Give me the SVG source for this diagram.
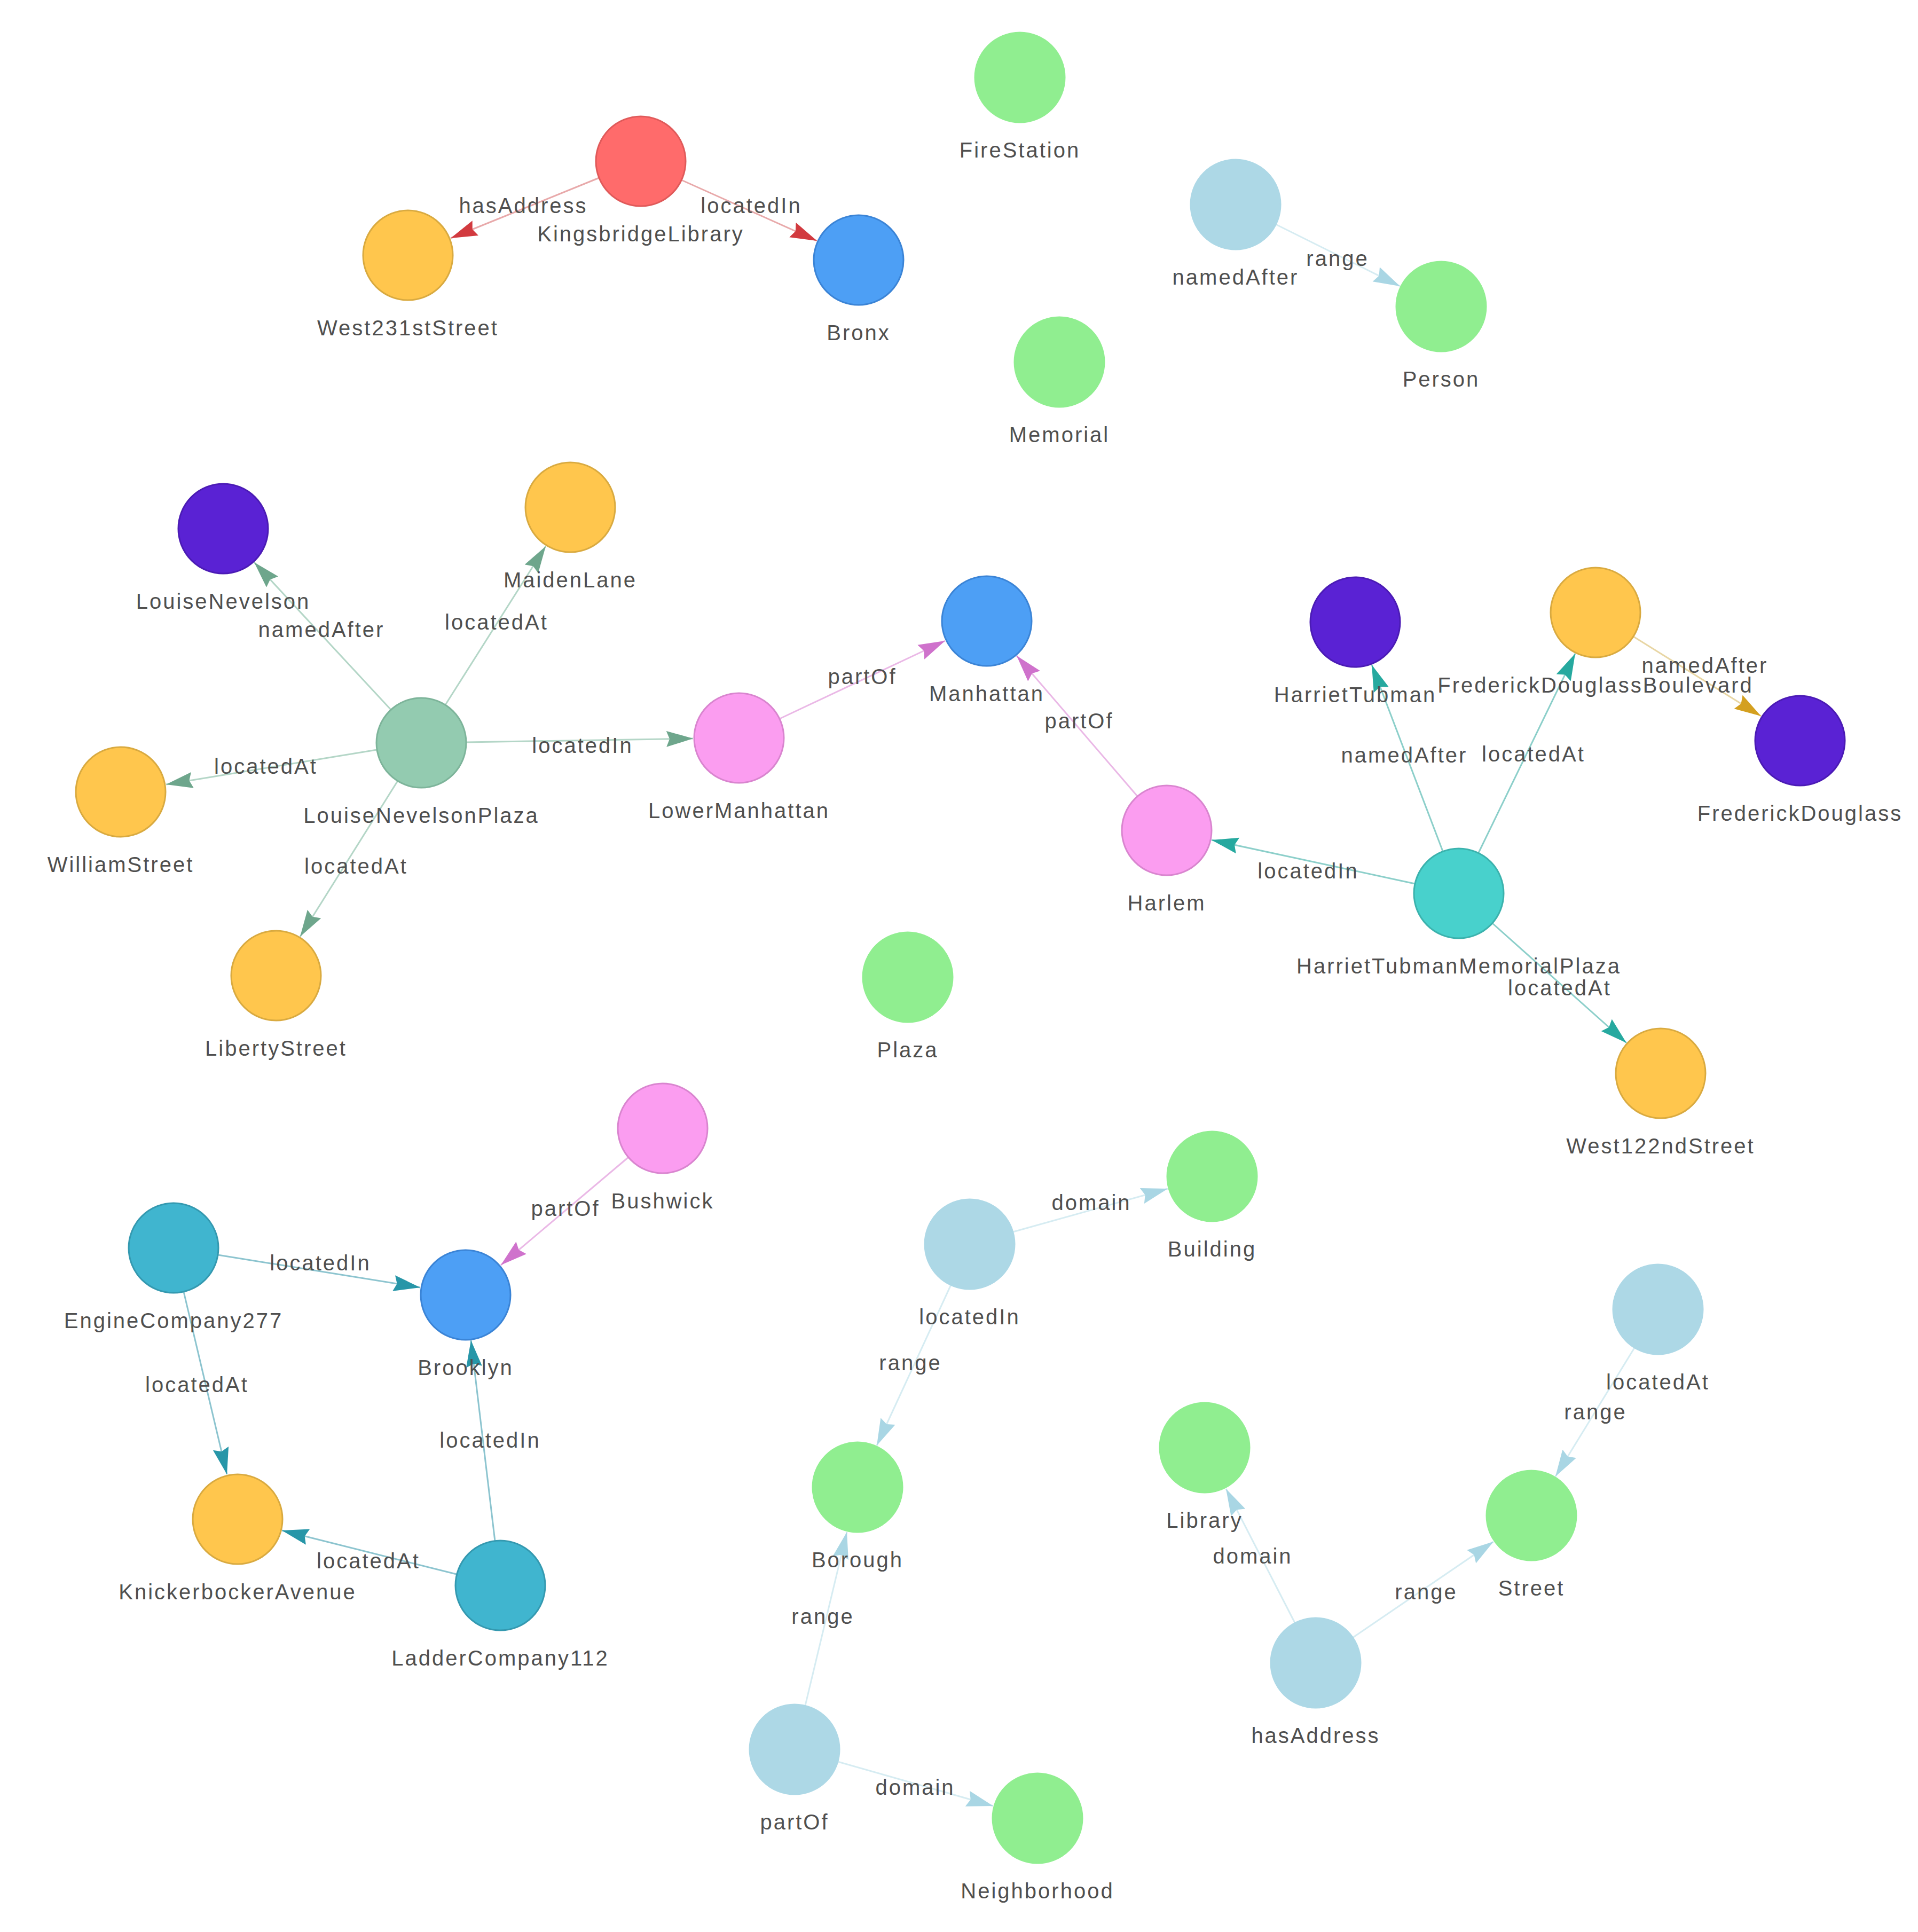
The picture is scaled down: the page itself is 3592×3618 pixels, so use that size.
<svg xmlns="http://www.w3.org/2000/svg" width="3592" height="3618" viewBox="0 0 3592 3618">
<style>
text{font-family:"Liberation Sans",Arial,sans-serif;font-size:40px;letter-spacing:3px;fill:#4f4f4f;text-anchor:middle}
.e{stroke-width:3;fill:none}
.n{stroke-width:3}
.red{fill:#ff6b6b;stroke:#e05a5a}
.yel{fill:#ffc64d;stroke:#d9aa40}
.blu{fill:#4d9ff5;stroke:#3b84d6}
.grn{fill:#90ee90;stroke:#90ee90}
.lbl{fill:#add8e6;stroke:#add8e6}
.pur{fill:#5a22d4;stroke:#4b1bb5}
.pnk{fill:#fb9df0;stroke:#d985cf}
.sag{fill:#93cbb0;stroke:#7db49a}
.tea{fill:#48d1cc;stroke:#3bb2ad}
.cya{fill:#40b5cf;stroke:#3499b0}
</style>
<defs>
<marker id="aR" markerUnits="userSpaceOnUse" markerWidth="50" markerHeight="32" refX="50" refY="16" orient="auto"><path d="M0,1 L50,16 L0,31 L6,16 z" fill="#d23a3f"/></marker>
<marker id="aL" markerUnits="userSpaceOnUse" markerWidth="50" markerHeight="32" refX="50" refY="16" orient="auto"><path d="M0,1 L50,16 L0,31 L6,16 z" fill="#a9d6e4"/></marker>
<marker id="aS" markerUnits="userSpaceOnUse" markerWidth="50" markerHeight="32" refX="50" refY="16" orient="auto"><path d="M0,1 L50,16 L0,31 L6,16 z" fill="#6ea68c"/></marker>
<marker id="aP" markerUnits="userSpaceOnUse" markerWidth="50" markerHeight="32" refX="50" refY="16" orient="auto"><path d="M0,1 L50,16 L0,31 L6,16 z" fill="#cf72cc"/></marker>
<marker id="aT" markerUnits="userSpaceOnUse" markerWidth="50" markerHeight="32" refX="50" refY="16" orient="auto"><path d="M0,1 L50,16 L0,31 L6,16 z" fill="#26a99f"/></marker>
<marker id="aG" markerUnits="userSpaceOnUse" markerWidth="50" markerHeight="32" refX="50" refY="16" orient="auto"><path d="M0,1 L50,16 L0,31 L6,16 z" fill="#d4a020"/></marker>
<marker id="aC" markerUnits="userSpaceOnUse" markerWidth="50" markerHeight="32" refX="50" refY="16" orient="auto"><path d="M0,1 L50,16 L0,31 L6,16 z" fill="#2796a8"/></marker>
</defs>
<rect width="3592" height="3618" fill="#fff"/>
<g id="connectors">
<line class="e" x1="1122" y1="333" x2="844" y2="446" stroke="#e8a9aa" marker-end="url(#aR)"/>
<line class="e" x1="1276" y1="337" x2="1530" y2="451" stroke="#e8a9aa" marker-end="url(#aR)"/>
<line class="e" x1="2389" y1="420" x2="2622" y2="536" stroke="#d6ecf2" marker-end="url(#aL)"/>
<line class="e" x1="732" y1="1329" x2="476" y2="1053" stroke="#b4d6c7" marker-end="url(#aS)"/>
<line class="e" x1="834" y1="1320" x2="1022" y2="1023" stroke="#b4d6c7" marker-end="url(#aS)"/>
<line class="e" x1="706" y1="1404" x2="311" y2="1469" stroke="#b4d6c7" marker-end="url(#aS)"/>
<line class="e" x1="745" y1="1462" x2="562" y2="1754" stroke="#b4d6c7" marker-end="url(#aS)"/>
<line class="e" x1="873" y1="1390" x2="1298" y2="1383" stroke="#b4d6c7" marker-end="url(#aS)"/>
<line class="e" x1="1460" y1="1346" x2="1770" y2="1200" stroke="#eab8e6" marker-end="url(#aP)"/>
<line class="e" x1="2130" y1="1491" x2="1904" y2="1228" stroke="#eab8e6" marker-end="url(#aP)"/>
<line class="e" x1="2702" y1="1594" x2="2569" y2="1245" stroke="#8ccfca" marker-end="url(#aT)"/>
<line class="e" x1="2769" y1="1597" x2="2950" y2="1224" stroke="#8ccfca" marker-end="url(#aT)"/>
<line class="e" x1="3059" y1="1192" x2="3298" y2="1341" stroke="#e8d6a4" marker-end="url(#aG)"/>
<line class="e" x1="2650" y1="1655" x2="2269" y2="1573" stroke="#8ccfca" marker-end="url(#aT)"/>
<line class="e" x1="2795" y1="1729" x2="3046" y2="1953" stroke="#8ccfca" marker-end="url(#aT)"/>
<line class="e" x1="1177" y1="2167" x2="938" y2="2369" stroke="#eab8e6" marker-end="url(#aP)"/>
<line class="e" x1="408" y1="2350" x2="787" y2="2411" stroke="#8cc4cf" marker-end="url(#aC)"/>
<line class="e" x1="344" y1="2419" x2="425" y2="2761" stroke="#8cc4cf" marker-end="url(#aC)"/>
<line class="e" x1="927" y1="2886" x2="882" y2="2510" stroke="#8cc4cf" marker-end="url(#aC)"/>
<line class="e" x1="855" y1="2948" x2="528" y2="2866" stroke="#8cc4cf" marker-end="url(#aC)"/>
<line class="e" x1="1897" y1="2307" x2="2187" y2="2226" stroke="#d6ecf2" marker-end="url(#aL)"/>
<line class="e" x1="1781" y1="2406" x2="1642" y2="2707" stroke="#d6ecf2" marker-end="url(#aL)"/>
<line class="e" x1="1508" y1="3194" x2="1586" y2="2869" stroke="#d6ecf2" marker-end="url(#aL)"/>
<line class="e" x1="1569" y1="3299" x2="1860" y2="3382" stroke="#d6ecf2" marker-end="url(#aL)"/>
<line class="e" x1="2425" y1="3039" x2="2296" y2="2788" stroke="#d6ecf2" marker-end="url(#aL)"/>
<line class="e" x1="2533" y1="3067" x2="2797" y2="2887" stroke="#d6ecf2" marker-end="url(#aL)"/>
<line class="e" x1="3061" y1="2524" x2="2913" y2="2765" stroke="#d6ecf2" marker-end="url(#aL)"/>
<text x="980" y="399">hasAddress</text>
<text x="1407" y="399">locatedIn</text>
<text x="2505" y="498">range</text>
<text x="602" y="1193">namedAfter</text>
<text x="930" y="1179">locatedAt</text>
<text x="498" y="1449">locatedAt</text>
<text x="1091" y="1410">locatedIn</text>
<text x="667" y="1636">locatedAt</text>
<text x="1615" y="1281">partOf</text>
<text x="2021" y="1364">partOf</text>
<text x="2630" y="1428">namedAfter</text>
<text x="2872" y="1426">locatedAt</text>
<text x="3193" y="1260">namedAfter</text>
<text x="2450" y="1645">locatedIn</text>
<text x="2921" y="1864">locatedAt</text>
<text x="1059" y="2277">partOf</text>
<text x="600" y="2379">locatedIn</text>
<text x="369" y="2607">locatedAt</text>
<text x="918" y="2711">locatedIn</text>
<text x="690" y="2937">locatedAt</text>
<text x="2044" y="2266">domain</text>
<text x="1705" y="2566">range</text>
<text x="1541" y="3041">range</text>
<text x="1714" y="3361">domain</text>
<text x="2346" y="2928">domain</text>
<text x="2671" y="2995">range</text>
<text x="2988" y="2658">range</text>
</g>
<g id="KingsbridgeLibrary"><circle class="n red" cx="1200" cy="302" r="84"/><text x="1200" y="452">KingsbridgeLibrary</text></g>
<g id="West231stStreet"><circle class="n yel" cx="764" cy="478" r="84"/><text x="764" y="628">West231stStreet</text></g>
<g id="Bronx"><circle class="n blu" cx="1608" cy="487" r="84"/><text x="1608" y="637">Bronx</text></g>
<g id="FireStation"><circle class="n grn" cx="1910" cy="145" r="84"/><text x="1910" y="295">FireStation</text></g>
<g id="namedAfter"><circle class="n lbl" cx="2314" cy="383" r="84"/><text x="2314" y="533">namedAfter</text></g>
<g id="Person"><circle class="n grn" cx="2699" cy="574" r="84"/><text x="2699" y="724">Person</text></g>
<g id="Memorial"><circle class="n grn" cx="1984" cy="678" r="84"/><text x="1984" y="828">Memorial</text></g>
<g id="LouiseNevelson"><circle class="n pur" cx="418" cy="990" r="84"/><text x="418" y="1140">LouiseNevelson</text></g>
<g id="MaidenLane"><circle class="n yel" cx="1068" cy="950" r="84"/><text x="1068" y="1100">MaidenLane</text></g>
<g id="LouiseNevelsonPlaza"><circle class="n sag" cx="789" cy="1391" r="84"/><text x="789" y="1541">LouiseNevelsonPlaza</text></g>
<g id="WilliamStreet"><circle class="n yel" cx="226" cy="1483" r="84"/><text x="226" y="1633">WilliamStreet</text></g>
<g id="LibertyStreet"><circle class="n yel" cx="517" cy="1827" r="84"/><text x="517" y="1977">LibertyStreet</text></g>
<g id="LowerManhattan"><circle class="n pnk" cx="1384" cy="1382" r="84"/><text x="1384" y="1532">LowerManhattan</text></g>
<g id="Manhattan"><circle class="n blu" cx="1848" cy="1163" r="84"/><text x="1848" y="1313">Manhattan</text></g>
<g id="Harlem"><circle class="n pnk" cx="2185" cy="1555" r="84"/><text x="2185" y="1705">Harlem</text></g>
<g id="HarrietTubman"><circle class="n pur" cx="2538" cy="1165" r="84"/><text x="2538" y="1315">HarrietTubman</text></g>
<g id="FrederickDouglassBoulevard"><circle class="n yel" cx="2988" cy="1147" r="84"/><text x="2988" y="1297">FrederickDouglassBoulevard</text></g>
<g id="FrederickDouglass"><circle class="n pur" cx="3371" cy="1387" r="84"/><text x="3371" y="1537">FrederickDouglass</text></g>
<g id="HarrietTubmanMemorialPlaza"><circle class="n tea" cx="2732" cy="1673" r="84"/><text x="2732" y="1823">HarrietTubmanMemorialPlaza</text></g>
<g id="West122ndStreet"><circle class="n yel" cx="3110" cy="2010" r="84"/><text x="3110" y="2160">West122ndStreet</text></g>
<g id="Plaza"><circle class="n grn" cx="1700" cy="1830" r="84"/><text x="1700" y="1980">Plaza</text></g>
<g id="Bushwick"><circle class="n pnk" cx="1241" cy="2113" r="84"/><text x="1241" y="2263">Bushwick</text></g>
<g id="EngineCompany277"><circle class="n cya" cx="325" cy="2337" r="84"/><text x="325" y="2487">EngineCompany277</text></g>
<g id="Brooklyn"><circle class="n blu" cx="872" cy="2425" r="84"/><text x="872" y="2575">Brooklyn</text></g>
<g id="KnickerbockerAvenue"><circle class="n yel" cx="445" cy="2845" r="84"/><text x="445" y="2995">KnickerbockerAvenue</text></g>
<g id="LadderCompany112"><circle class="n cya" cx="937" cy="2969" r="84"/><text x="937" y="3119">LadderCompany112</text></g>
<g id="locatedIn"><circle class="n lbl" cx="1816" cy="2330" r="84"/><text x="1816" y="2480">locatedIn</text></g>
<g id="Building"><circle class="n grn" cx="2270" cy="2203" r="84"/><text x="2270" y="2353">Building</text></g>
<g id="Borough"><circle class="n grn" cx="1606" cy="2785" r="84"/><text x="1606" y="2935">Borough</text></g>
<g id="partOf"><circle class="n lbl" cx="1488" cy="3276" r="84"/><text x="1488" y="3426">partOf</text></g>
<g id="Neighborhood"><circle class="n grn" cx="1943" cy="3405" r="84"/><text x="1943" y="3555">Neighborhood</text></g>
<g id="Library"><circle class="n grn" cx="2256" cy="2711" r="84"/><text x="2256" y="2861">Library</text></g>
<g id="hasAddress"><circle class="n lbl" cx="2464" cy="3114" r="84"/><text x="2464" y="3264">hasAddress</text></g>
<g id="Street"><circle class="n grn" cx="2868" cy="2838" r="84"/><text x="2868" y="2988">Street</text></g>
<g id="locatedAt"><circle class="n lbl" cx="3105" cy="2452" r="84"/><text x="3105" y="2602">locatedAt</text></g>
</svg>
